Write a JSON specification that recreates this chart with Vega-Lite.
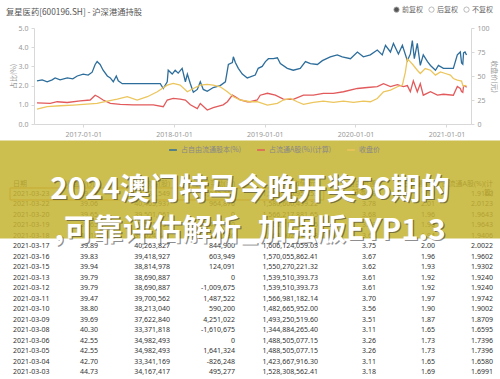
{
  "$schema": "https://vega.github.io/schema/vega-lite/v6.json",
  "width": 500,
  "height": 379,
  "autosize": "none",
  "padding": 0,
  "background": "white",
  "title": {"text": "复星医药[600196.SH] - 沪深港通持股", "anchor": "start", "frame": "group", "offset": -16, "dx": 6, "fontSize": 8.3, "fontWeight": "normal", "color": "#555", "font": "Noto Sans CJK SC"},
  "config": {
    "font": "Noto Sans CJK SC",
    "view": {"stroke": null},
    "axis": {"labelFontSize": 7, "labelColor": "#999", "labelFont": "Noto Sans", "domainColor": "#d8d8d8", "tickColor": "#d8d8d8", "tickSize": 3, "grid": false, "titleFontSize": 7, "titleColor": "#999", "titleFontWeight": "normal", "titleFont": "Noto Sans CJK SC"}
  },
  "datasets": {
    "blue": [
      {"d":"2016-06-29","v":2.25},{"d":"2016-07-20","v":2.3},{"d":"2016-08-09","v":2.2},{"d":"2016-08-29","v":2.3},{"d":"2016-09-10","v":2.4},{"d":"2016-09-30","v":2.3},{"d":"2016-10-29","v":2.4},{"d":"2016-11-20","v":2.35},{"d":"2016-12-08","v":2.5},{"d":"2017-01-01","v":2.6},{"d":"2017-01-21","v":2.55},{"d":"2017-02-06","v":2.7},{"d":"2017-02-18","v":3.1},{"d":"2017-02-26","v":3.25},{"d":"2017-03-10","v":3.1},{"d":"2017-03-22","v":2.8},{"d":"2017-04-08","v":2.5},{"d":"2017-04-20","v":2.4},{"d":"2017-05-02","v":2.2},{"d":"2017-05-14","v":2.5},{"d":"2017-05-22","v":2.25},{"d":"2017-06-07","v":2.1},{"d":"2017-06-27","v":2.1},{"d":"2017-08-18","v":2.1},{"d":"2017-10-10","v":2.1},{"d":"2017-11-07","v":2.1},{"d":"2017-11-19","v":1.85},{"d":"2017-12-05","v":2.2},{"d":"2017-12-09","v":2.8},{"d":"2017-12-25","v":2.6},{"d":"2018-01-06","v":2.8},{"d":"2018-01-18","v":2.65},{"d":"2018-02-03","v":2.9},{"d":"2018-02-16","v":2.2},{"d":"2018-02-24","v":2.6},{"d":"2018-03-08","v":2.1},{"d":"2018-03-20","v":1.65},{"d":"2018-04-05","v":1.8},{"d":"2018-04-17","v":2.2},{"d":"2018-04-29","v":1.8},{"d":"2018-05-15","v":1.7},{"d":"2018-06-08","v":1.9},{"d":"2018-07-06","v":2.0},{"d":"2018-07-27","v":2.2},{"d":"2018-08-08","v":3.1},{"d":"2018-08-24","v":3.2},{"d":"2018-08-28","v":3.5},{"d":"2018-09-05","v":3.2},{"d":"2018-09-17","v":2.9},{"d":"2018-10-03","v":2.6},{"d":"2018-10-23","v":2.4},{"d":"2018-11-04","v":2.45},{"d":"2018-11-24","v":2.55},{"d":"2018-12-06","v":2.9},{"d":"2018-12-22","v":3.0},{"d":"2019-01-04","v":3.25},{"d":"2019-01-16","v":3.4},{"d":"2019-02-05","v":3.4},{"d":"2019-02-21","v":3.45},{"d":"2019-03-05","v":3.15},{"d":"2019-04-02","v":2.9},{"d":"2019-04-26","v":2.8},{"d":"2019-05-24","v":2.9},{"d":"2019-06-14","v":3.25},{"d":"2019-07-04","v":3.15},{"d":"2019-08-01","v":3.1},{"d":"2019-08-21","v":3.3},{"d":"2019-09-22","v":3.5},{"d":"2019-10-20","v":3.6},{"d":"2019-11-09","v":3.5},{"d":"2019-12-12","v":3.4},{"d":"2020-01-09","v":3.75},{"d":"2020-02-02","v":3.5},{"d":"2020-03-01","v":3.6},{"d":"2020-03-29","v":3.85},{"d":"2020-04-18","v":3.6},{"d":"2020-05-01","v":4.1},{"d":"2020-05-21","v":3.75},{"d":"2020-06-02","v":4.2},{"d":"2020-06-22","v":3.65},{"d":"2020-07-08","v":4.1},{"d":"2020-07-28","v":3.3},{"d":"2020-08-09","v":3.65},{"d":"2020-08-17","v":4.35},{"d":"2020-08-25","v":3.4},{"d":"2020-09-06","v":4.2},{"d":"2020-09-18","v":3.05},{"d":"2020-09-30","v":3.6},{"d":"2020-10-17","v":3.25},{"d":"2020-10-29","v":3.05},{"d":"2020-11-18","v":2.8},{"d":"2020-11-30","v":3.05},{"d":"2020-12-20","v":2.9},{"d":"2021-01-17","v":2.9},{"d":"2021-01-29","v":2.9},{"d":"2021-02-14","v":3.6},{"d":"2021-02-26","v":3.75},{"d":"2021-03-03","v":3.18},{"d":"2021-03-08","v":3.11},{"d":"2021-03-11","v":3.7},{"d":"2021-03-17","v":3.75},{"d":"2021-03-23","v":3.59}
    ],
    "red": [
      {"d":"2016-06-29","v":1.1},{"d":"2016-08-21","v":1.07},{"d":"2016-09-18","v":1.16},{"d":"2016-10-29","v":1.12},{"d":"2016-12-20","v":1.2},{"d":"2017-01-29","v":1.25},{"d":"2017-02-18","v":1.5},{"d":"2017-03-02","v":1.42},{"d":"2017-03-22","v":1.25},{"d":"2017-04-20","v":1.07},{"d":"2017-05-30","v":1.02},{"d":"2017-07-21","v":1.0},{"d":"2017-10-10","v":1.0},{"d":"2017-11-19","v":0.9},{"d":"2017-12-05","v":1.25},{"d":"2017-12-29","v":1.33},{"d":"2018-01-26","v":1.3},{"d":"2018-02-16","v":1.25},{"d":"2018-03-08","v":1.0},{"d":"2018-04-05","v":0.8},{"d":"2018-04-17","v":1.07},{"d":"2018-05-15","v":0.73},{"d":"2018-06-08","v":0.85},{"d":"2018-07-18","v":1.0},{"d":"2018-08-04","v":1.16},{"d":"2018-08-24","v":1.5},{"d":"2018-09-05","v":1.42},{"d":"2018-09-25","v":1.25},{"d":"2018-10-23","v":1.16},{"d":"2018-11-04","v":1.16},{"d":"2018-12-02","v":1.25},{"d":"2018-12-14","v":1.5},{"d":"2019-01-12","v":1.6},{"d":"2019-02-13","v":1.5},{"d":"2019-03-17","v":1.3},{"d":"2019-04-26","v":1.28},{"d":"2019-06-06","v":1.5},{"d":"2019-07-16","v":1.5},{"d":"2019-08-25","v":1.6},{"d":"2019-10-04","v":1.6},{"d":"2019-11-14","v":1.68},{"d":"2020-01-09","v":1.85},{"d":"2020-02-18","v":1.9},{"d":"2020-03-29","v":1.95},{"d":"2020-04-23","v":2.1},{"d":"2020-05-21","v":1.95},{"d":"2020-06-18","v":2.05},{"d":"2020-07-12","v":1.95},{"d":"2020-07-28","v":2.0},{"d":"2020-08-09","v":1.68},{"d":"2020-08-21","v":2.25},{"d":"2020-09-06","v":1.68},{"d":"2020-09-18","v":2.1},{"d":"2020-09-30","v":1.5},{"d":"2020-10-29","v":1.68},{"d":"2020-11-26","v":1.5},{"d":"2020-12-20","v":1.55},{"d":"2021-01-29","v":1.5},{"d":"2021-02-14","v":1.95},{"d":"2021-02-26","v":1.85},{"d":"2021-03-03","v":1.69},{"d":"2021-03-08","v":1.65},{"d":"2021-03-11","v":1.97},{"d":"2021-03-17","v":2.0},{"d":"2021-03-23","v":1.91}
    ],
    "gold": [
      {"d":"2016-06-29","v":15.5},{"d":"2016-08-09","v":18},{"d":"2016-09-30","v":19},{"d":"2016-11-22","v":19.7},{"d":"2017-01-01","v":20.4},{"d":"2017-02-26","v":21.5},{"d":"2017-04-08","v":23.9},{"d":"2017-05-18","v":26},{"d":"2017-06-27","v":28.4},{"d":"2017-08-06","v":25},{"d":"2017-09-16","v":28.4},{"d":"2017-10-26","v":33.6},{"d":"2017-12-05","v":40.5},{"d":"2017-12-29","v":42.2},{"d":"2018-01-26","v":40.5},{"d":"2018-02-24","v":33.6},{"d":"2018-03-20","v":37},{"d":"2018-04-17","v":40.5},{"d":"2018-05-15","v":41.2},{"d":"2018-06-08","v":40.5},{"d":"2018-07-06","v":38.8},{"d":"2018-08-04","v":33.6},{"d":"2018-08-28","v":28.4},{"d":"2018-09-25","v":25},{"d":"2018-11-04","v":23.2},{"d":"2018-12-02","v":23.2},{"d":"2019-01-12","v":19.7},{"d":"2019-02-21","v":21.5},{"d":"2019-03-17","v":25},{"d":"2019-04-14","v":26.6},{"d":"2019-05-12","v":23.2},{"d":"2019-06-06","v":20.4},{"d":"2019-07-16","v":22.5},{"d":"2019-08-25","v":23.9},{"d":"2019-10-04","v":22.5},{"d":"2019-11-14","v":23.9},{"d":"2019-12-24","v":22.5},{"d":"2020-02-02","v":23.9},{"d":"2020-03-01","v":23.2},{"d":"2020-03-29","v":26.6},{"d":"2020-04-23","v":33.6},{"d":"2020-05-21","v":35.3},{"d":"2020-06-18","v":38.8},{"d":"2020-07-08","v":40.5},{"d":"2020-07-20","v":54},{"d":"2020-07-28","v":68},{"d":"2020-08-09","v":64.7},{"d":"2020-08-21","v":61.2},{"d":"2020-09-06","v":56},{"d":"2020-09-18","v":52.6},{"d":"2020-10-08","v":57.8},{"d":"2020-10-29","v":56},{"d":"2020-11-18","v":50.9},{"d":"2020-12-08","v":54.3},{"d":"2020-12-28","v":52.6},{"d":"2021-01-17","v":50.9},{"d":"2021-01-29","v":47.4},{"d":"2021-02-14","v":45.7},{"d":"2021-03-03","v":44.73},{"d":"2021-03-08","v":40.3},{"d":"2021-03-11","v":39.47},{"d":"2021-03-17","v":39.89},{"d":"2021-03-23","v":39.97}
    ],
    "cols": [{"k":"d","i":1},{"k":"p","i":2},{"k":"n","i":3},{"k":"c","i":4},{"k":"v","i":5},{"k":"f","i":6},{"k":"a","i":7},{"k":"a2","i":8}],
    "table": [
      {"d":"日期","p":"收盘价(元)","n":"持股数量(股)","c":"持股变动(股)","v":"持股市值(元)","f":"占自由流通\n股本(%)","a":"占流通A股\n(%)","a2":"占流通A股(%)(计\n算)"},
      {"d":"2021-03-23","p":"39.97","n":"38,533,549","c":"-1,932,388","v":"1,540,185,953.53","f":"3.59","a":"1.91","a2":"1.9162"},
      {"d":"2021-03-22","p":"39.06","n":"40,465,937","c":"964,876","v":"1,580,600,499.22","f":"3.78","a":"2.01","a2":"2.0123"},
      {"d":"2021-03-20","p":"39.65","n":"39,501,061","c":"0","v":"1,566,217,881.65","f":"3.68","a":"1.96","a2":"1.9643"},
      {"d":"2021-03-19","p":"39.65","n":"39,501,061","c":"476,620","v":"1,566,217,881.65","f":"3.68","a":"1.96","a2":"1.9643"},
      {"d":"2021-03-18","p":"40.18","n":"39,024,441","c":"-1,239,386","v":"1,568,002,039.38","f":"3.64","a":"1.94","a2":"1.9406"},
      {"d":"2021-03-17","p":"39.89","n":"40,263,827","c":"844,900","v":"1,606,124,059.03","f":"3.75","a":"2.00","a2":"2.0022"},
      {"d":"2021-03-16","p":"39.83","n":"39,418,927","c":"603,949","v":"1,570,055,862.41","f":"3.67","a":"1.96","a2":"1.9602"},
      {"d":"2021-03-15","p":"39.94","n":"38,814,978","c":"124,091","v":"1,550,270,221.32","f":"3.62","a":"1.93","a2":"1.9302"},
      {"d":"2021-03-13","p":"39.79","n":"38,690,887","c":"0","v":"1,539,510,393.73","f":"3.61","a":"1.92","a2":"1.9240"},
      {"d":"2021-03-12","p":"39.79","n":"38,690,887","c":"-1,009,675","v":"1,539,510,393.73","f":"3.61","a":"1.92","a2":"1.9240"},
      {"d":"2021-03-11","p":"39.47","n":"39,700,562","c":"1,487,522","v":"1,566,981,182.14","f":"3.70","a":"1.97","a2":"1.9742"},
      {"d":"2021-03-10","p":"38.80","n":"38,213,040","c":"590,200","v":"1,482,665,952.00","f":"3.56","a":"1.90","a2":"1.9002"},
      {"d":"2021-03-09","p":"39.69","n":"37,622,840","c":"4,251,022","v":"1,493,250,519.60","f":"3.51","a":"1.87","a2":"1.8709"},
      {"d":"2021-03-08","p":"40.30","n":"33,371,818","c":"-1,610,675","v":"1,344,884,265.40","f":"3.11","a":"1.65","a2":"1.6595"},
      {"d":"2021-03-06","p":"42.55","n":"34,982,493","c":"0","v":"1,488,505,077.15","f":"3.26","a":"1.73","a2":"1.7396"},
      {"d":"2021-03-05","p":"42.55","n":"34,982,493","c":"1,641,324","v":"1,488,505,077.15","f":"3.26","a":"1.73","a2":"1.7396"},
      {"d":"2021-03-04","p":"42.70","n":"33,341,169","c":"-826,248","v":"1,423,667,916.30","f":"3.11","a":"1.65","a2":"1.6580"},
      {"d":"2021-03-03","p":"44.73","n":"34,167,417","c":"495,277","v":"1,528,308,562.41","f":"3.18","a":"1.69","a2":"1.6991"}
    ],
    "banner": [{"t":"2024澳门特马今晚开奖56期的\n,可靠评估解析_加强版EYP1.3"}]
  },
  "layer": [
    {
      "layer": [
        {
          "data": {"name": "blue"},
          "mark": {"type": "line", "strokeWidth": 1.3},
          "encoding": {
            "x": {"field": "d", "type": "temporal", "scale": {"domain": [{"year": 2016, "month": 6, "date": 17}, {"year": 2021, "month": 4, "date": 10}], "range": [34, 471]}, "axis": {"orient": "bottom", "offset": -255, "title": null, "format": "%Y-%m-%d", "labelPadding": 3, "values": [{"year": 2017, "month": 1, "date": 1}, {"year": 2018, "month": 1, "date": 1}, {"year": 2019, "month": 1, "date": 1}, {"year": 2020, "month": 1, "date": 1}, {"year": 2021, "month": 1, "date": 1}]}},
            "y": {"field": "v", "type": "quantitative", "scale": {"domain": [0, 5], "range": [124, 28], "nice": false, "zero": false}, "axis": {"orient": "left", "offset": -34, "values": [0, 1, 2, 3, 4, 5], "title": "占比(%)", "titlePadding": 2, "labelPadding": 3}},
            "color": {"datum": "占自由流通股本(%)", "type": "nominal", "scale": {"domain": ["占自由流通股本(%)", "占流通A股(%)(计算)", "收盘价"], "range": ["#2d6d9b", "#e25a5b", "#ecc55c"]}, "legend": {"orient": "none", "legendX": 168, "legendY": 145, "direction": "horizontal", "title": null, "symbolType": "stroke", "symbolStrokeWidth": 1.5, "symbolSize": 60, "labelFontSize": 7, "labelColor": "#888", "columnPadding": 12, "labelOffset": 3}}
          }
        },
        {
          "data": {"name": "red"},
          "mark": {"type": "line", "strokeWidth": 1.3},
          "encoding": {
            "x": {"field": "d", "type": "temporal"},
            "y": {"field": "v", "type": "quantitative"},
            "color": {"datum": "占流通A股(%)(计算)", "type": "nominal"}
          }
        }
      ]
    },
    {
      "data": {"name": "gold"},
      "mark": {"type": "line", "strokeWidth": 1.3},
      "encoding": {
        "x": {"field": "d", "type": "temporal", "scale": {"domain": [{"year": 2016, "month": 6, "date": 17}, {"year": 2021, "month": 4, "date": 10}], "range": [34, 471]}, "axis": null},
        "y": {"field": "v", "type": "quantitative", "scale": {"domain": [0, 100], "range": [124, 28], "nice": false, "zero": false}, "axis": {"orient": "right", "offset": -29, "values": [0, 25, 50, 75, 100], "title": "收盘价(元)", "titlePadding": 1, "labelPadding": 3}},
        "color": {"datum": "收盘价", "type": "nominal"}
      }
    },
    {
      "data": {"name": "table"},
      "transform": [
        {"fold": ["d", "p", "n", "c", "v", "f", "a", "a2"], "as": ["k", "t"]},
        {"lookup": "k", "from": {"data": {"name": "cols"}, "key": "k", "fields": ["i"]}}
      ],
      "encoding": {
        "x": {"field": "i", "type": "quantitative", "scale": {"domain": [1, 2, 3, 4, 5, 6, 7, 8], "range": [13, 98, 170, 235, 318, 376, 435, 493], "nice": false, "zero": false}, "axis": null},
        "y": {"field": "d", "type": "nominal", "sort": null, "scale": {"type": "point", "range": [183.5, 372], "padding": 0}, "axis": null}
      },
      "layer": [
        {
          "transform": [{"filter": "datum.k == 'd'"}],
          "mark": {"type": "text", "align": "left", "baseline": "middle", "fontSize": 7, "color": "#333", "font": "Noto Sans, Noto Sans CJK SC", "lineBreak": "\n", "lineHeight": 9},
          "encoding": {"text": {"field": "t"}}
        },
        {
          "transform": [{"filter": "datum.k != 'd'"}],
          "mark": {"type": "text", "align": "right", "baseline": "middle", "fontSize": 7, "color": "#333", "font": "Noto Sans, Noto Sans CJK SC", "lineBreak": "\n", "lineHeight": 9},
          "encoding": {"text": {"field": "t"}}
        },
        {
          "transform": [{"filter": "datum.k == 'd' && datum.d == '2021-03-23'"}],
          "mark": {"type": "rect", "height": 12, "fillOpacity": 0, "stroke": "#d9822b", "strokeWidth": 1},
          "encoding": {"x": {"datum": 0.965, "type": "quantitative"}, "x2": {"datum": 5.1}}
        }
      ]
    },
    {
      "data": {"values": [{"o": "前复权"}, {"o": "后复权"}, {"o": "不复权"}]},
      "mark": {"type": "point", "opacity": 0, "filled": true},
      "encoding": {
        "fill": {"field": "o", "type": "nominal", "sort": null, "scale": {"domain": ["前复权", "后复权", "不复权"], "range": ["#555555", "#ffffff", "#ffffff"]}, "legend": {"orient": "none", "legendX": 393, "legendY": 6, "direction": "horizontal", "title": null, "symbolType": "circle", "symbolSize": 28, "symbolStrokeColor": "#aaaaaa", "symbolStrokeWidth": 0.8, "symbolOpacity": 1, "labelFontSize": 7, "labelColor": "#666", "columnPadding": 4, "labelOffset": 2}}
      }
    },
    {
      "data": {"name": "banner"},
      "layer": [
        {
          "mark": {"type": "point", "shape": "M-1,-0.196L1,-0.196L1,0.196L-1,0.196Z", "size": 250000, "filled": true, "color": "#c4b331", "opacity": 0.85, "strokeWidth": 0},
          "encoding": {}
        },
        {
          "mark": {"type": "text", "font": "Noto Sans CJK SC", "fontWeight": "bold", "fontSize": 29.5, "lineBreak": "\n", "lineHeight": 41, "baseline": "middle", "color": "#333", "opacity": 0.55, "dx": 1.3, "dy": 1.5},
          "encoding": {"text": {"field": "t"}}
        },
        {
          "mark": {"type": "text", "font": "Noto Sans CJK SC", "fontWeight": "bold", "fontSize": 29.5, "lineBreak": "\n", "lineHeight": 41, "baseline": "middle", "color": "white"},
          "encoding": {"text": {"field": "t"}}
        }
      ]
    }
  ],
  "resolve": {"scale": {"x": "independent", "y": "independent"}, "axis": {"x": "independent", "y": "independent"}}
}
